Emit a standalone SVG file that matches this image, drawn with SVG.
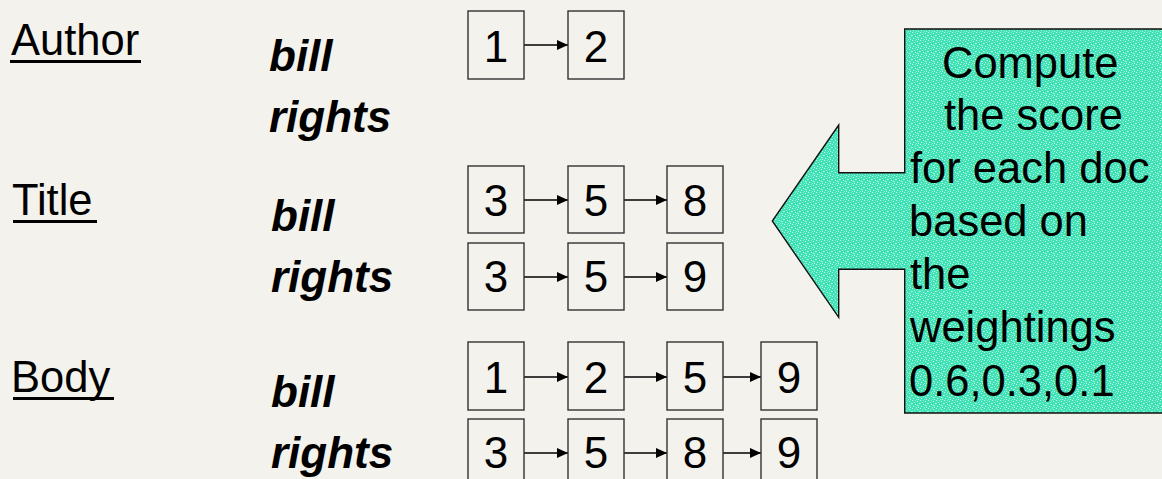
<svg xmlns="http://www.w3.org/2000/svg" width="1162" height="479" viewBox="0 0 1162 479">
  <defs>
    <style>
      .lbl { font-family: "Liberation Sans", Arial, sans-serif; font-size: 43.5px; fill: #000; }
      .uline { stroke: #000; stroke-width: 3; }
      .term { font-family: "Liberation Sans", Arial, sans-serif; font-size: 44px; font-weight: bold; font-style: italic; fill: #000; }
      .box { fill: #f3f2ec; stroke: #333; stroke-width: 1.4; }
      .num { font-family: "Liberation Sans", Arial, sans-serif; font-size: 44px; fill: #000; text-anchor: middle; }
      .conn { stroke: #000; stroke-width: 1.4; fill: none; marker-end: url(#ah); }
      .callout { fill: url(#tex); stroke: #111; stroke-width: 1.4; }
      .ctext { font-family: "Liberation Sans", Arial, sans-serif; font-size: 43.5px; fill: #000; }
      .lt { fill: #c8f6e6; }
      .md { fill: #90eed4; }
    </style>
    <marker id="ah" markerUnits="userSpaceOnUse" markerWidth="11" markerHeight="10" refX="11" refY="5" orient="auto">
      <path d="M0,0 L11,5 L0,10 z" fill="#000"/>
    </marker>
    <pattern id="tex" patternUnits="userSpaceOnUse" width="8" height="8">
      <rect width="8" height="8" fill="#3fe3b6"/>
      <rect class="lt" x="0" y="0" width="1" height="1"/>
      <rect class="lt" x="5" y="1" width="1" height="1"/>
      <rect class="md" x="2" y="2" width="1" height="1"/>
      <rect class="lt" x="7" y="3" width="1" height="1"/>
      <rect class="lt" x="3" y="4" width="1" height="1"/>
      <rect class="md" x="6" y="5" width="1" height="1"/>
      <rect class="lt" x="1" y="6" width="1" height="1"/>
      <rect class="md" x="4" y="7" width="1" height="1"/>
      <rect class="md" x="0" y="3" width="1" height="1"/>
      <rect class="lt" x="6" y="7" width="1" height="1"/>
      <rect class="md" x="3" y="0" width="1" height="1"/>
      <rect class="lt" x="5" y="5" width="1" height="1"/>
    </pattern>
  </defs>
  <rect width="1162" height="479" fill="#f3f2ec"/>

  <g id="labels">
    <text class="lbl" x="11" y="55">Author</text>
    <line class="uline" x1="10" y1="61.5" x2="141" y2="61.5"/>
    <text class="lbl" x="12" y="215">Title</text>
    <line class="uline" x1="13" y1="221.5" x2="97" y2="221.5"/>
    <text class="lbl" x="11" y="392">Body</text>
    <line class="uline" x1="13" y1="398.5" x2="114" y2="398.5"/>
  </g>
  <g id="terms">
    <text class="term" x="269" y="71">bill</text>
    <text class="term" x="269" y="132">rights</text>
    <text class="term" x="271" y="231">bill</text>
    <text class="term" x="271" y="292">rights</text>
    <text class="term" x="271" y="407">bill</text>
    <text class="term" x="271" y="468">rights</text>
  </g>

  <g id="connectors">
    <line class="conn" x1="524" y1="45" x2="568" y2="45"/>
    <line class="conn" x1="524" y1="200" x2="568" y2="200"/>
    <line class="conn" x1="624" y1="200" x2="667" y2="200"/>
    <line class="conn" x1="524" y1="277" x2="568" y2="277"/>
    <line class="conn" x1="624" y1="277" x2="667" y2="277"/>
    <line class="conn" x1="524" y1="377" x2="568" y2="377"/>
    <line class="conn" x1="624" y1="377" x2="667" y2="377"/>
    <line class="conn" x1="723" y1="377" x2="761" y2="377"/>
    <line class="conn" x1="524" y1="453" x2="568" y2="453"/>
    <line class="conn" x1="624" y1="453" x2="667" y2="453"/>
    <line class="conn" x1="723" y1="453" x2="761" y2="453"/>
  </g>

  <g id="author-bill-1"><rect class="box" x="468" y="11" width="56" height="68"/><text class="num" x="496" y="61.5">1</text></g>
  <g id="author-bill-2"><rect class="box" x="568" y="11" width="56" height="68"/><text class="num" x="596" y="61.5">2</text></g>

  <g id="title-bill-3"><rect class="box" x="468" y="166" width="56" height="67"/><text class="num" x="496" y="215.5">3</text></g>
  <g id="title-bill-5"><rect class="box" x="568" y="166" width="56" height="67"/><text class="num" x="596" y="215.5">5</text></g>
  <g id="title-bill-8"><rect class="box" x="667" y="166" width="56" height="67"/><text class="num" x="695" y="215.5">8</text></g>

  <g id="title-rights-3"><rect class="box" x="468" y="243" width="56" height="67"/><text class="num" x="496" y="292">3</text></g>
  <g id="title-rights-5"><rect class="box" x="568" y="243" width="56" height="67"/><text class="num" x="596" y="292">5</text></g>
  <g id="title-rights-9"><rect class="box" x="667" y="243" width="56" height="67"/><text class="num" x="695" y="292">9</text></g>

  <g id="body-bill-1"><rect class="box" x="468" y="342" width="56" height="68"/><text class="num" x="496" y="393">1</text></g>
  <g id="body-bill-2"><rect class="box" x="568" y="342" width="56" height="68"/><text class="num" x="596" y="393">2</text></g>
  <g id="body-bill-5"><rect class="box" x="667" y="342" width="56" height="68"/><text class="num" x="695" y="393">5</text></g>
  <g id="body-bill-9"><rect class="box" x="761" y="342" width="56" height="68"/><text class="num" x="789" y="393">9</text></g>

  <g id="body-rights-3"><rect class="box" x="468" y="419" width="56" height="68"/><text class="num" x="496" y="468">3</text></g>
  <g id="body-rights-5"><rect class="box" x="568" y="419" width="56" height="68"/><text class="num" x="596" y="468">5</text></g>
  <g id="body-rights-8"><rect class="box" x="667" y="419" width="56" height="68"/><text class="num" x="695" y="468">8</text></g>
  <g id="body-rights-9"><rect class="box" x="761" y="419" width="56" height="68"/><text class="num" x="789" y="468">9</text></g>

  <g id="callout">
    <path class="callout" d="M904.7,29 L1170,29 L1170,413 L904.7,413 L904.7,269.3 L838.7,269.3 L838.7,317.3 L772.3,221 L838.7,125 L838.7,172.7 L904.7,172.7 Z"/>
    <text class="ctext" x="942" y="78">Compute</text>
    <text class="ctext" x="944" y="130">the score</text>
    <text class="ctext" x="910" y="183">for each doc</text>
    <text class="ctext" x="909" y="236">based on</text>
    <text class="ctext" x="910" y="289">the</text>
    <text class="ctext" x="910" y="342">weightings</text>
    <text class="ctext" x="909" y="396">0.6,0.3,0.1</text>
  </g>
</svg>
